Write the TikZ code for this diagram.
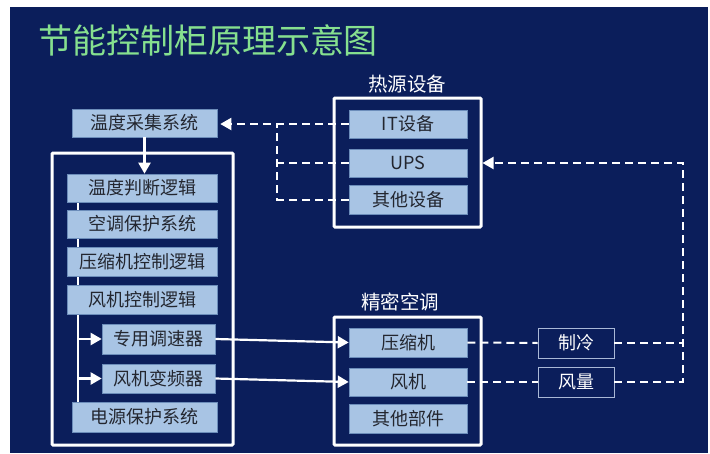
\documentclass[tikz,border=0pt]{standalone}
\usepackage{fontspec}
\setmainfont{Noto Sans CJK SC}
\usetikzlibrary{arrows.meta}
\definecolor{bg}{HTML}{0B1E5B}
\definecolor{boxblue}{HTML}{A8C4E4}
\definecolor{boxedge}{HTML}{6C8DBA}
\definecolor{ttl}{HTML}{86E08F}
\definecolor{txt}{HTML}{23262F}
\definecolor{thinedge}{HTML}{A9B8D6}
\begin{document}
\begin{tikzpicture}[x=1pt,y=-1pt,
 box/.style={fill=boxblue,draw=boxedge,line width=0.6pt,text=txt,
   font=\fontsize{18}{18}\selectfont,inner sep=0pt,minimum height=28pt},
 obox/.style={fill=bg,draw=thinedge,line width=0.8pt,text=white,
   font=\fontsize{18}{18}\selectfont,inner sep=0pt,minimum height=30pt,minimum width=76pt},
 frame/.style={draw=white,line width=3pt,rounded corners=1pt,inner sep=0pt},
 lbl/.style={text=white,font=\fontsize{19.5}{19.5}\selectfont},
 dline/.style={draw=white,line width=2pt,dash pattern=on 8pt off 5pt},
 sline/.style={draw=white,line width=2.2pt},
 tip/.style={-{Triangle[length=11pt,width=12pt]}},
 ]
\useasboundingbox (0,0) rectangle (710,453);
\fill[white] (0,0) rectangle (710,453);
\fill[bg] (10,7) rectangle (708,453);

\node[text=ttl,font=\fontsize{34}{34}\selectfont] (title) at (208,40) {节能控制柜原理示意图};

% left frame
\node[frame,minimum width=181pt,minimum height=292pt] (lf) at (142.5,299) {};
\coordinate (bt) at (78,202);
\coordinate (bb) at (78,402);
\draw[sline] (bt) -- (bb);
\node[box,minimum width=145pt] (caiji) at (144.5,123) {温度采集系统};
\node[box,minimum width=150pt] (panduan) at (142,188) {温度判断逻辑};
\node[box,minimum width=150pt] (baohu) at (142,224) {空调保护系统};
\node[box,minimum width=150pt,minimum height=29pt] (yasuo) at (142,261.5) {压缩机控制逻辑};
\node[box,minimum width=150pt,minimum height=29pt] (fjctl) at (142,299.5) {风机控制逻辑};
\node[box,minimum width=113pt,minimum height=30pt] (tiaosu) at (158.5,339) {专用调速器};
\node[box,minimum width=113pt,minimum height=29pt] (bianpin) at (158.5,378.5) {风机变频器};
\node[box,minimum width=145pt,minimum height=30pt] (dianyuan) at (144.5,417) {电源保护系统};

\draw[sline,tip] (bt |- tiaosu.west) -- (tiaosu.west);
\draw[sline,tip] (bt |- bianpin.west) -- (bianpin.west);
\draw[sline,tip] (caiji.south) -- (caiji.south |- panduan.north);

% heat source
\node[frame,minimum width=147pt,minimum height=129pt] (rsf) at (407.5,162.5) {};
\node[lbl] (rslbl) at (407,84) {热源设备};
\node[box,minimum width=118pt] (it) at (408,124) {IT设备};
\node[box,minimum width=118pt] (ups) at (408,163) {UPS};
\node[box,minimum width=118pt,minimum height=29pt] (qtsb) at (408,199.5) {其他设备};

\coordinate (lj) at (277,124);
\draw[dline,tip,shorten >=3pt] (it.west) -- (caiji.east |- it.west);
\draw[dline] (ups.west) -- (lj |- ups.west);
\draw[dline] (qtsb.west) -- (lj |- qtsb.west) -- (lj);

% precision AC
\node[frame,minimum width=147pt,minimum height=128pt] (jmf) at (407.5,381) {};
\node[lbl] (jmlbl) at (400,302) {精密空调};
\node[box,minimum width=118pt,minimum height=29pt] (ysj) at (408,342.5) {压缩机};
\node[box,minimum width=118pt] (fj) at (408,382) {风机};
\node[box,minimum width=118pt,minimum height=29pt] (qtbj) at (408,418.5) {其他部件};

\node[obox] (zl) at (576,343) {制冷};
\node[obox] (fl) at (576,382) {风量};

\coordinate (r1) at (683,163);
\draw[dline] (ysj.east) -- (zl.west);
\draw[dline] (fj.east) -- (fl.west);
\draw[dline] (zl.east) -- (zl.east -| r1);
\draw[dline,tip] (fl.east) -- (fl.east -| r1) -- (r1) -- (rsf.east |- r1);

\draw[sline,tip] (tiaosu.east) -- (ysj.west);
\draw[sline,tip] (bianpin.east) -- (fj.west);
\end{tikzpicture}
\end{document}
